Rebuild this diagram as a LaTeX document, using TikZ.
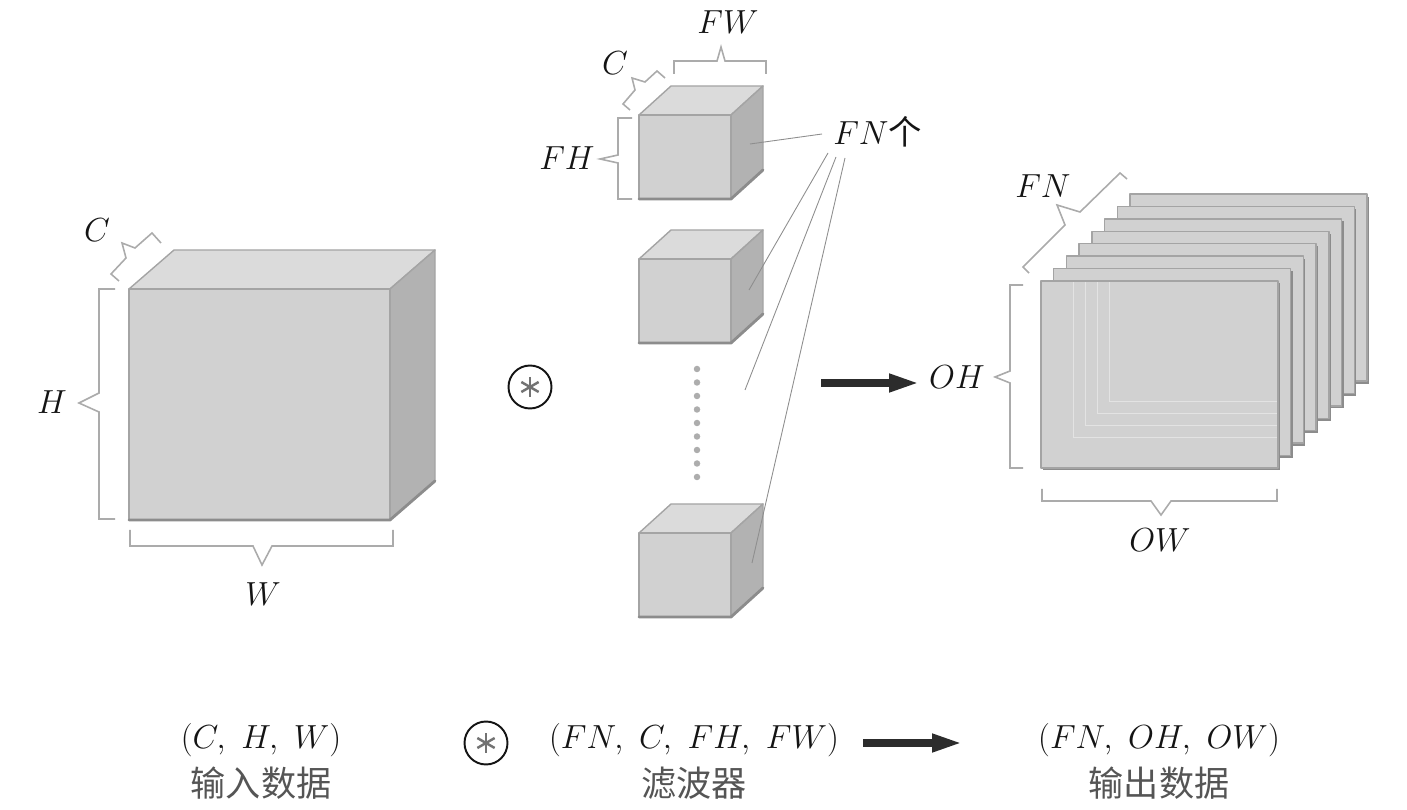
\documentclass[tikz,border=0pt]{standalone}
\usepackage{fix-cm}
\usepackage{fontspec}
\newfontfamily\cjk{Noto Sans CJK SC}
\usepackage{tikz}
\usetikzlibrary{arrows.meta,positioning}
\definecolor{ink}{HTML}{141414}
\definecolor{capc}{HTML}{555555}
\definecolor{frontc}{HTML}{D1D1D1}
\definecolor{topc}{HTML}{DBDBDB}
\definecolor{sidec}{HTML}{B2B2B2}
\definecolor{edgec}{HTML}{A4A4A4}
\definecolor{shadec}{HTML}{8C8C8C}
\definecolor{bracec}{HTML}{ABABAB}
\definecolor{leadc}{HTML}{8E8E8E}
\definecolor{dotc}{HTML}{ADADAD}
\tikzset{
  face/.style={draw=edgec, line width=0.8pt, line join=round},
  shd/.style={draw=shadec, line width=1.6pt, line cap=round},
  ghost/.style={draw=white!40!frontc, line width=0.5pt},
  brk/.style={draw=bracec, line width=0.9pt, line join=miter},
  lead/.style={draw=leadc, line width=0.5pt},
  lab/.style={text=ink, font=\fontsize{19}{22}\selectfont, inner sep=0pt},
  cn/.style={text=capc, font=\cjk\fontsize{20}{24}\selectfont, inner sep=0pt},
  big/.style={draw=ink!90, line width=4pt, -{Triangle[length=0.6cm,width=0.34cm]}},
  opc/.style={draw=ink, line width=1.1pt},
  star/.style={draw=black!55, line width=1.4pt},
  conv/.pic={
    \draw[opc] (0,0) circle (0.43cm);
    \foreach \a in {90,30,150} \draw[star] (\a:0.2cm) -- (\a+180:0.2cm);
  },
}
% name, x, y (front top-left), w, h, depth dx, dy
\newcommand{\boxcube}[7]{
  \coordinate (#1) at (#2,#3);
  \path[face, fill=topc] (#2,#3) -- ++(#6,-#7) -- ++(#4,0) -- ++(-#6,#7) -- cycle;
  \path[face, fill=sidec] (#2+#4,#3) -- ++(#6,-#7) -- ++(0,#5) -- ++(-#6,#7) -- cycle;
  \path[face, fill=frontc] (#2,#3) rectangle ++(#4,#5);
  \draw[shd] (#2,#3+#5) -- ++(#4,0) -- ++(#6,-#7);
}

\begin{document}
\begin{tikzpicture}[x=0.02cm, y=-0.02cm]
  \useasboundingbox (0,0) rectangle (1407,810);

  % input data
  \boxcube{cin}{129}{289}{261}{231}{45}{39}
  \draw[brk] (115,289) -- (99,289) -- (99,393) -- (79,403) -- (99,412) -- (99,519) -- (115,519);
  \draw[brk] (130,530) -- (130,546) -- (253,546) -- (262,565) -- (272,546) -- (393,546) -- (393,530);
  \draw[brk] (119,281) -- (111,274) -- (126,258) -- (122,243) -- (135,248) -- (152,233) -- (161,243);
  \node[lab] (hl) at (52,402) {$H$};
  \node[lab] (wl) at (263,594) {$W$};
  \node[lab] (cl) at (97,230) {$C$};

  \pic (op1) at (530,387) {conv};

  % filters
  \boxcube{f1}{639}{115}{92}{84}{32}{29}
  \boxcube{f2}{639}{259}{92}{84}{32}{29}
  \boxcube{f3}{639}{533}{92}{84}{32}{29}
  \foreach \k in {0,...,8}
    \fill[dotc] (697,369+13.5*\k) circle (0.065cm);
  \draw[brk] (674,74) -- (674,61) -- (717,61) -- (721,47) -- (725,61) -- (766,61) -- (766,74);
  \draw[brk] (630,110) -- (623,104) -- (635,90) -- (632,78) -- (645,82) -- (657,71) -- (665,78);
  \draw[brk] (632,118) -- (618,118) -- (618,155) -- (600,159) -- (618,163) -- (618,199) -- (632,199);
  \node[lab] (fwl) at (728,22) {$FW$};
  \node[lab] (fcl) at (615,63) {$C$};
  \node[lab] (fhl) at (567,158) {$FH$};

  \node[lab, anchor=base west] (fnl) at (833,145) {$FN${\cjk 个}};
  \coordinate (p1) at (750,144);
  \coordinate (p2) at (749,290);
  \coordinate (p3) at (745,390);
  \coordinate (p4) at (752,563);
  \draw[lead] ([xshift=-0.22cm, yshift=0.22cm]fnl.base west) -- (p1);
  \draw[lead] ([xshift=-0.1cm, yshift=-0.16cm]fnl.base west) -- (p2);
  \draw[lead] ([xshift=0.06cm, yshift=-0.24cm]fnl.base west) -- (p3);
  \draw[lead] ([xshift=0.24cm, yshift=-0.26cm]fnl.base west) -- (p4);

  \coordinate (a1) at (821,383);
  \coordinate (a2) at (919,383);
  \draw[big] (a1) -- (a2);

  % output data
  \foreach \i in {7,6,...,0} {
    \pgfmathsetmacro\sx{1041+12.7*\i}
    \pgfmathsetmacro\sy{281-12.4*\i}
    \fill[shadec] (\sx+2,\sy+2.5) rectangle ++(237,187);
    \path[face, fill=frontc] (\sx,\sy) rectangle ++(237,187);
  }
  \foreach \i in {0,...,3}
    \draw[ghost] (1073+12.3*\i,282) |- (1277,437-12*\i);
  \draw[brk] (1029,273) -- (1023,267) -- (1065,225) -- (1057,205) -- (1080,212) -- (1120,173) -- (1127,179);
  \draw[brk] (1023,285) -- (1010,285) -- (1010,371) -- (995,377) -- (1010,383) -- (1010,468) -- (1023,468);
  \draw[brk] (1042,489) -- (1042,501) -- (1151,501) -- (1161,515) -- (1171,501) -- (1277,501) -- (1277,489);
  \node[lab] (fno) at (1043,186) {$FN$};
  \node[lab] (ohl) at (957,377) {$OH$};
  \node[lab] (owl) at (1160,540) {$OW$};

  % shapes row
  \node[lab] (tin) at (261,740) {$(C,\ H,\ W)$};
  \node[cn, below=0.2cm of tin] (cin-t) {输入数据};
  \pic (op2) at (486,743) {conv};
  \node[lab] (tf) at (694,740) {$(FN,\ C,\ FH,\ FW)$};
  \node[cn, below=0.2cm of tf] (tf-t) {滤波器};
  \coordinate (b1) at (863,743);
  \coordinate (b2) at (962,743);
  \draw[big] (b1) -- (b2);
  \node[lab] (tout) at (1159,740) {$(FN,\ OH,\ OW)$};
  \node[cn, below=0.2cm of tout] (tout-t) {输出数据};
\end{tikzpicture}
\end{document}
